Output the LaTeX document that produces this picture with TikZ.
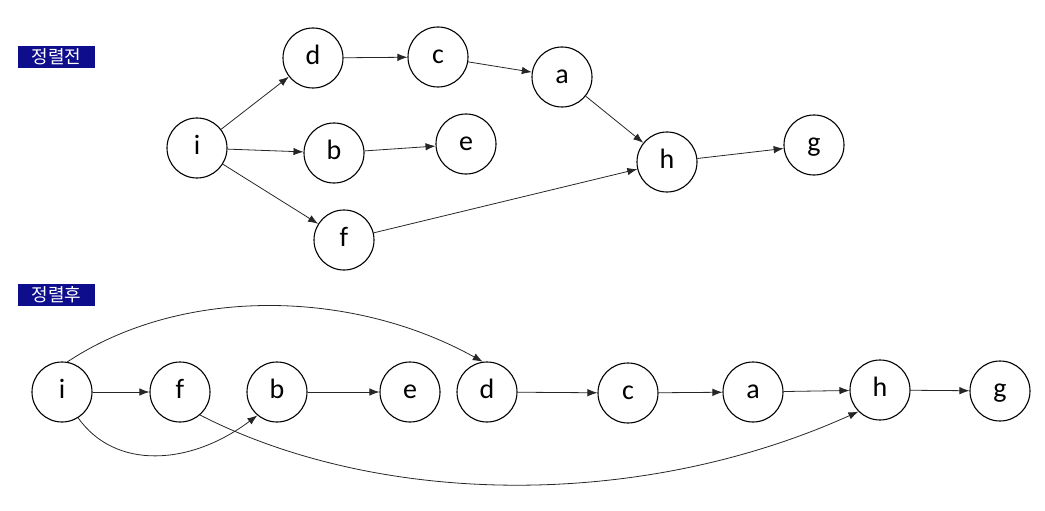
\documentclass[tikz,border=0pt]{standalone}
\usepackage{fontspec}
\setmainfont{Carlito}
\newfontfamily\kofont{Noto Sans CJK KR}
\usetikzlibrary{arrows.meta}
\begin{document}
\begin{tikzpicture}[x=1pt,y=-1pt,
  vtx/.style={circle,draw=black,line width=1.1pt,minimum size=60pt,inner sep=0pt,text height=13pt,text depth=0pt,font=\fontsize{28}{28}\selectfont},
  edge/.style={draw=black!85,line width=0.8pt,-{Latex[length=10pt,width=7.5pt]}},
  tag/.style={fill=tagblue,text=white,minimum width=77pt,minimum height=22pt,inner sep=0pt,font=\kofont\fontsize{18}{18}\selectfont}]
\definecolor{tagblue}{RGB}{14,14,140}
\useasboundingbox (0,0) rectangle (1045,511);
% labels
\node[tag] (t1) at (56.5,57) {정렬전};
\node[tag] (t2) at (56.5,295) {정렬후};
% top graph
\node[vtx] (ti) at (197,148) {i};
\node[vtx] (td) at (313,58) {d};
\node[vtx] (tc) at (438,57) {c};
\node[vtx] (ta) at (562,77) {a};
\node[vtx] (tb) at (334,153) {b};
\node[vtx] (te) at (466,144) {e};
\node[vtx] (th) at (667,162) {h};
\node[vtx] (tg) at (814,145) {g};
\node[vtx] (tf) at (344,240) {f};
\draw[edge] (ti) -- (td);
\draw[edge] (ti) -- (tb);
\draw[edge] (ti) -- (tf);
\draw[edge] (td) -- (tc);
\draw[edge] (tc) -- (ta);
\draw[edge] (tb) -- (te);
\draw[edge] (ta) -- (th);
\draw[edge] (tf) -- (th);
\draw[edge] (th) -- (tg);
% bottom graph
\node[vtx] (bi) at (62,392) {i};
\node[vtx] (bf) at (180,392) {f};
\node[vtx] (bb) at (277,392) {b};
\node[vtx] (be) at (410,392) {e};
\node[vtx] (bd) at (487,392) {d};
\node[vtx] (bc) at (628,393) {c};
\node[vtx] (ba) at (753,392) {a};
\node[vtx] (bh) at (880,390) {h};
\node[vtx] (bg) at (1000,391) {g};
\draw[edge] (bi) -- (bf);
\draw[edge] (bb) -- (be);
\draw[edge] (bd) -- (bc);
\draw[edge] (bc) -- (ba);
\draw[edge] (ba) -- (bh);
\draw[edge] (bh) -- (bg);
\draw[edge] (bi.80) .. controls (180,287) and (350,288) .. (bd.98);
\draw[edge] (bi.-58) .. controls (115,470) and (190,466) .. (bb.-130);
\draw[edge] (bf.-49) .. controls (380,507) and (640,510) .. (bh.-135);
\end{tikzpicture}
\end{document}
